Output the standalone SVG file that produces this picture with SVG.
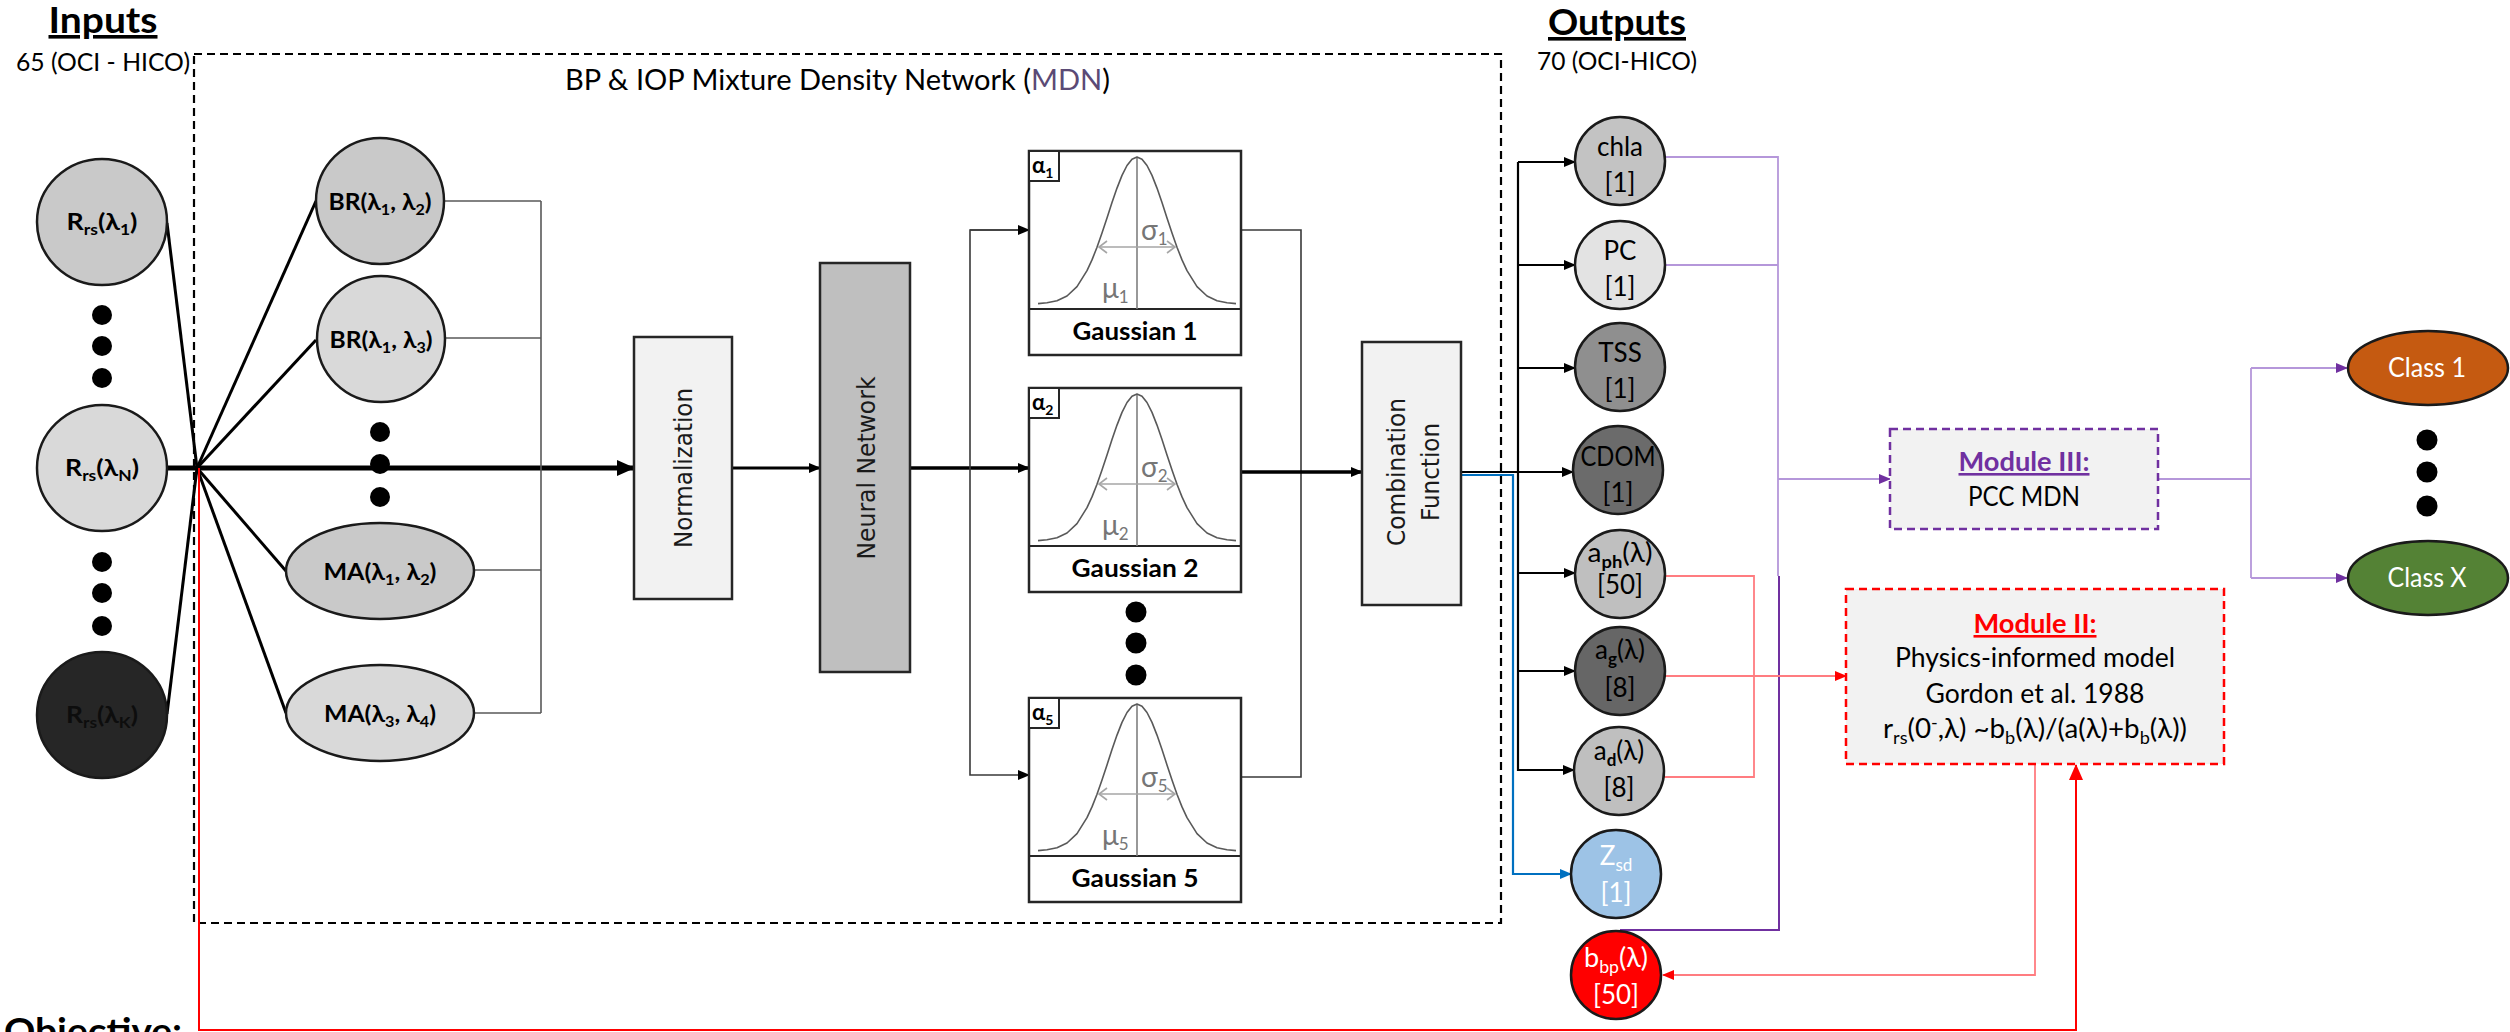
<svg xmlns="http://www.w3.org/2000/svg" width="2510" height="1032" viewBox="0 0 2510 1032">
<style>
text{font-family:Lato,"Liberation Sans",sans-serif;fill:#000}
.b{font-weight:bold}
.h{font-size:36px;font-weight:bold;text-decoration:underline}
.s25{font-size:25px}
.lb{font-size:23px;font-weight:bold;text-anchor:middle}
.sub{font-size:15px}
.ot{font-size:26px;text-anchor:middle}
.osub{font-size:17px}
.rot{font-family:"DejaVu Sans",Verdana,sans-serif;font-size:25px;text-anchor:middle;fill:#1a1a1a}
.nd{stroke:#1a1a1a;stroke-width:2.5}
.box{stroke:#262626;stroke-width:2.5}
.blk{stroke:#000;stroke-width:3;fill:none}
.thin{stroke:#000;stroke-width:2.2;fill:none}
.gry{stroke:#595959;stroke-width:1.6;fill:none}
.gl{stroke:#3a3a3a;stroke-width:1.6;fill:none}
.pl{stroke:#B597DA;stroke-width:1.8;fill:none}
.pd{stroke:#7030A0;stroke-width:2;fill:none}
.rl{stroke:#FF7C80;stroke-width:1.8;fill:none}
.rd{stroke:#FF0000;stroke-width:2;fill:none}
.bl{stroke:#0070C0;stroke-width:2.2;fill:none}
.dot{fill:#000}
.gt{font-size:24px;font-weight:bold;text-anchor:middle}
.gs{font-size:28px;fill:#767676}
.gsub{font-size:17px}
.asub{font-size:14px}
.mt{font-size:26px;text-anchor:middle}
</style>
<defs>
<marker id="ah" viewBox="0 0 12 10" refX="11" refY="5" markerWidth="12" markerHeight="10" markerUnits="userSpaceOnUse" orient="auto"><path d="M0,0L12,5L0,10z" fill="#000"/></marker>
<marker id="ahB" viewBox="0 0 18 16" refX="17" refY="8" markerWidth="18" markerHeight="16" markerUnits="userSpaceOnUse" orient="auto"><path d="M0,0L18,8L0,16z" fill="#000"/></marker>
<marker id="ahP" viewBox="0 0 12 10" refX="11" refY="5" markerWidth="12" markerHeight="10" markerUnits="userSpaceOnUse" orient="auto"><path d="M0,0L12,5L0,10z" fill="#7030A0"/></marker>
<marker id="ahR" viewBox="0 0 12 10" refX="11" refY="5" markerWidth="12" markerHeight="10" markerUnits="userSpaceOnUse" orient="auto"><path d="M0,0L12,5L0,10z" fill="#FF0000"/></marker>
<marker id="ahRB" viewBox="0 0 16 14" refX="15" refY="7" markerWidth="16" markerHeight="14" markerUnits="userSpaceOnUse" orient="auto"><path d="M0,0L16,7L0,14z" fill="#FF0000"/></marker>
<marker id="ahBl" viewBox="0 0 12 10" refX="11" refY="5" markerWidth="12" markerHeight="10" markerUnits="userSpaceOnUse" orient="auto"><path d="M0,0L12,5L0,10z" fill="#0070C0"/></marker>
<g id="gbody">
<rect x="0" y="0" width="212" height="204" fill="#fff" class="box" stroke-width="2"/>
<rect x="0" y="0" width="30" height="30" fill="#fff" stroke="#262626" stroke-width="2"/>
<line x1="0" y1="158" x2="212" y2="158" stroke="#262626" stroke-width="2"/>
<line x1="108" y1="6" x2="108" y2="158" stroke="#7f7f7f" stroke-width="1.6"/>
<path d="M9,152.6 L18,151.8 L28,149.7 L38,145 L48,135.7 L58,119.7 L63,108.9 L68,96.2 L73,82 L78,66.9 L83,51.6 L88,37.1 L93,24.4 L98,14.5 L103,8.2 L108,6 L113,8.2 L118,14.5 L123,24.4 L128,37.1 L133,51.6 L138,66.9 L143,82 L148,96.2 L153,108.9 L158,119.7 L168,135.7 L178,145 L188,149.7 L198,151.8 L207,152.6" fill="none" stroke="#595959" stroke-width="1.6" stroke-linejoin="round"/>
<line x1="70" y1="96" x2="146" y2="96" stroke="#a6a6a6" stroke-width="1.6"/>
<path d="M78,90 L70,96 L78,102 M138,90 L146,96 L138,102" fill="none" stroke="#a6a6a6" stroke-width="1.6"/>
</g>
</defs>
<rect x="0" y="0" width="2510" height="1032" fill="#fff"/>

<g id="headings">
<text x="103" y="33" class="h" text-anchor="middle" textLength="109" lengthAdjust="spacingAndGlyphs">Inputs</text>
<text x="103" y="71" class="s25" text-anchor="middle" textLength="174" lengthAdjust="spacingAndGlyphs">65 (OCI - HICO)</text>
<text x="1617" y="35" class="h" text-anchor="middle" textLength="138" lengthAdjust="spacingAndGlyphs">Outputs</text>
<text x="1617" y="70" class="s25" text-anchor="middle" textLength="160" lengthAdjust="spacingAndGlyphs">70 (OCI-HICO)</text>
<text x="565" y="90" font-size="28px" textLength="545" lengthAdjust="spacingAndGlyphs">BP &amp; IOP Mixture Density Network (<tspan fill="#5B4A75">MDN</tspan>)</text>
<text x="4" y="1044" font-size="36px" font-weight="bold" textLength="178" lengthAdjust="spacingAndGlyphs">Objective:</text>
</g>

<g id="mdn-frame">
<rect x="194" y="54" width="1307" height="869" fill="none" stroke="#000" stroke-width="2.2" stroke-dasharray="8,5"/>
</g>

<g id="connectors">
<line x1="167" y1="223" x2="197" y2="468" class="blk"/>
<line x1="167" y1="714" x2="197" y2="468" class="blk"/>
<line x1="197" y1="468" x2="316" y2="201" class="blk"/>
<line x1="197" y1="468" x2="316" y2="340" class="blk"/>
<line x1="197" y1="468" x2="286" y2="571" class="blk"/>
<line x1="197" y1="468" x2="286" y2="713" class="blk"/>
<line x1="167" y1="468" x2="634" y2="468" stroke="#000" stroke-width="5" marker-end="url(#ahB)"/>
<path d="M444,201 H541 M446,338 H541 M473,570 H541 M473,713 H541 M541,201 V713" class="gry"/>
<line x1="732" y1="468" x2="820" y2="468" stroke="#000" stroke-width="3" marker-end="url(#ah)"/>
<line x1="910" y1="468" x2="1029" y2="468" stroke="#000" stroke-width="3.5" marker-end="url(#ah)"/>
<path d="M1029,230 H970 V775 H1029" class="gl" marker-end="url(#ah)"/>
<line x1="970" y1="230" x2="1029" y2="230" class="gl" marker-end="url(#ah)"/>
<path d="M1241,230 H1301 V777 H1240" class="gl"/>
<line x1="1241" y1="472" x2="1362" y2="472" stroke="#000" stroke-width="3.5" marker-end="url(#ah)"/>
<line x1="1461" y1="472" x2="1573" y2="472" class="thin" marker-end="url(#ah)"/>
<line x1="1518" y1="162" x2="1518" y2="771" class="thin"/>
<line x1="1518" y1="162" x2="1575" y2="162" class="thin" marker-end="url(#ah)"/>
<line x1="1518" y1="265" x2="1575" y2="265" class="thin" marker-end="url(#ah)"/>
<line x1="1518" y1="368" x2="1575" y2="368" class="thin" marker-end="url(#ah)"/>
<line x1="1518" y1="573" x2="1575" y2="573" class="thin" marker-end="url(#ah)"/>
<line x1="1518" y1="671" x2="1575" y2="671" class="thin" marker-end="url(#ah)"/>
<line x1="1518" y1="770" x2="1574" y2="770" class="thin" marker-end="url(#ah)"/>
<path d="M1454,475 H1513 V874 H1571" class="bl" marker-end="url(#ahBl)"/>
<path d="M1665,157 H1778 V576 M1665,265 H1778" class="pl"/>
<line x1="1778" y1="479" x2="1890" y2="479" class="pl" marker-end="url(#ahP)"/>
<path d="M1779,576 V930 H1620" class="pd"/>
<path d="M2158,479 H2251 M2251,368 V578" class="pl"/>
<line x1="2251" y1="368" x2="2347" y2="368" class="pl" marker-end="url(#ahP)"/>
<line x1="2251" y1="578" x2="2347" y2="578" class="pl" marker-end="url(#ahP)"/>
<path d="M1665,576 H1754 V777 H1664" class="rl"/>
<line x1="1665" y1="676" x2="1846" y2="676" class="rl" marker-end="url(#ahR)"/>
<path d="M2035,764 V975 H1663" class="rl" marker-end="url(#ahR)"/>
<path d="M199,468 V1030 H2076 V765" class="rd" marker-end="url(#ahRB)"/>
</g>

<g id="rrs1"><ellipse cx="102" cy="222" rx="65" ry="63" fill="#C9C9C9" class="nd"/><text x="102" y="230" class="lb" textLength="71" lengthAdjust="spacingAndGlyphs">R<tspan class="sub" dy="5">rs</tspan><tspan dy="-5">(λ</tspan><tspan class="sub" dy="5">1</tspan><tspan dy="-5">)</tspan></text></g>
<g id="dots-in1"><circle cx="102" cy="315" r="10" class="dot"/><circle cx="102" cy="346" r="10" class="dot"/><circle cx="102" cy="378" r="10" class="dot"/></g>
<g id="rrsN"><ellipse cx="102" cy="468" rx="65" ry="63" fill="#D9D9D9" class="nd"/><text x="102" y="476" class="lb" textLength="74" lengthAdjust="spacingAndGlyphs">R<tspan class="sub" dy="5">rs</tspan><tspan dy="-5">(λ</tspan><tspan class="sub" dy="5">N</tspan><tspan dy="-5">)</tspan></text></g>
<g id="dots-in2"><circle cx="102" cy="562" r="10" class="dot"/><circle cx="102" cy="593" r="10" class="dot"/><circle cx="102" cy="626" r="10" class="dot"/></g>
<g id="rrsK"><ellipse cx="102" cy="715" rx="65" ry="63" fill="#262626" class="nd"/><text x="102" y="723" class="lb" style="fill:#0d0d0d" textLength="72" lengthAdjust="spacingAndGlyphs">R<tspan class="sub" dy="5">rs</tspan><tspan dy="-5">(λ</tspan><tspan class="sub" dy="5">K</tspan><tspan dy="-5">)</tspan></text></g>

<g id="br12"><ellipse cx="380" cy="201" rx="64" ry="63" fill="#C9C9C9" class="nd"/><text x="380" y="210" class="lb" textLength="103" lengthAdjust="spacingAndGlyphs">BR(λ<tspan class="sub" dy="5">1</tspan><tspan dy="-5">, λ</tspan><tspan class="sub" dy="5">2</tspan><tspan dy="-5">)</tspan></text></g>
<g id="br13"><ellipse cx="381" cy="339" rx="64" ry="63" fill="#D9D9D9" class="nd"/><text x="381" y="348" class="lb" textLength="103" lengthAdjust="spacingAndGlyphs">BR(λ<tspan class="sub" dy="5">1</tspan><tspan dy="-5">, λ</tspan><tspan class="sub" dy="5">3</tspan><tspan dy="-5">)</tspan></text></g>
<g id="dots-feat"><circle cx="380" cy="432" r="10" class="dot"/><circle cx="380" cy="464" r="10" class="dot"/><circle cx="380" cy="497" r="10" class="dot"/></g>
<g id="ma12"><ellipse cx="380" cy="571" rx="94" ry="48" fill="#C9C9C9" class="nd"/><text x="380" y="580" class="lb" textLength="113" lengthAdjust="spacingAndGlyphs">MA(λ<tspan class="sub" dy="5">1</tspan><tspan dy="-5">, λ</tspan><tspan class="sub" dy="5">2</tspan><tspan dy="-5">)</tspan></text></g>
<g id="ma34"><ellipse cx="380" cy="713" rx="94" ry="48" fill="#D9D9D9" class="nd"/><text x="380" y="722" class="lb" textLength="112" lengthAdjust="spacingAndGlyphs">MA(λ<tspan class="sub" dy="5">3</tspan><tspan dy="-5">, λ</tspan><tspan class="sub" dy="5">4</tspan><tspan dy="-5">)</tspan></text></g>

<g id="normalization"><rect x="634" y="337" width="98" height="262" fill="#F2F2F2" class="box"/><text transform="translate(683,468) rotate(-90)" y="9" class="rot" textLength="160" lengthAdjust="spacingAndGlyphs">Normalization</text></g>
<g id="neural-network"><rect x="820" y="263" width="90" height="409" fill="#BFBFBF" class="box"/><text transform="translate(865,468) rotate(-90)" y="10" class="rot" textLength="183" lengthAdjust="spacingAndGlyphs">Neural Network</text></g>

<g id="gaussian1"><use href="#gbody" x="1029" y="151"/>
<text x="1032" y="173" class="b" font-size="22px">α<tspan class="asub" dy="5">1</tspan></text>
<text x="1141" y="240" class="gs">σ<tspan class="gsub" dy="5">1</tspan></text>
<text x="1102" y="298" class="gs">μ<tspan class="gsub" dy="5">1</tspan></text>
<text x="1135" y="340" class="gt" textLength="125" lengthAdjust="spacingAndGlyphs">Gaussian 1</text></g>
<g id="gaussian2"><use href="#gbody" x="1029" y="388"/>
<text x="1032" y="410" class="b" font-size="22px">α<tspan class="asub" dy="5">2</tspan></text>
<text x="1141" y="477" class="gs">σ<tspan class="gsub" dy="5">2</tspan></text>
<text x="1102" y="535" class="gs">μ<tspan class="gsub" dy="5">2</tspan></text>
<text x="1135" y="577" class="gt" textLength="127" lengthAdjust="spacingAndGlyphs">Gaussian 2</text></g>
<g id="dots-gauss"><circle cx="1136" cy="612" r="10.5" class="dot"/><circle cx="1136" cy="643" r="10.5" class="dot"/><circle cx="1136" cy="675" r="10.5" class="dot"/></g>
<g id="gaussian5"><use href="#gbody" x="1029" y="698"/>
<text x="1032" y="720" class="b" font-size="22px">α<tspan class="asub" dy="5">5</tspan></text>
<text x="1141" y="787" class="gs">σ<tspan class="gsub" dy="5">5</tspan></text>
<text x="1102" y="845" class="gs">μ<tspan class="gsub" dy="5">5</tspan></text>
<text x="1135" y="887" class="gt" textLength="127" lengthAdjust="spacingAndGlyphs">Gaussian 5</text></g>

<g id="combination"><rect x="1362" y="342" width="99" height="263" fill="#F2F2F2" class="box"/><text transform="translate(1411,472) rotate(-90)" y="-6" class="rot" textLength="148" lengthAdjust="spacingAndGlyphs">Combination</text><text transform="translate(1411,472) rotate(-90)" y="28" class="rot" textLength="98" lengthAdjust="spacingAndGlyphs">Function</text></g>

<g id="chla"><ellipse cx="1620" cy="161" rx="45" ry="44" fill="#C3C3C3" class="nd"/><text x="1620" y="156" class="ot" textLength="46" lengthAdjust="spacingAndGlyphs">chla</text><text x="1620" y="192" class="ot">[1]</text></g>
<g id="pc"><ellipse cx="1620" cy="265" rx="45" ry="44" fill="#E3E3E3" class="nd"/><text x="1620" y="260" class="ot">PC</text><text x="1620" y="296" class="ot">[1]</text></g>
<g id="tss"><ellipse cx="1620" cy="367" rx="45" ry="44" fill="#8F8F8F" class="nd"/><text x="1620" y="362" class="ot">TSS</text><text x="1620" y="398" class="ot">[1]</text></g>
<g id="cdom"><ellipse cx="1618" cy="470" rx="45" ry="44" fill="#6B6B6B" class="nd"/><text x="1618" y="466" class="ot" textLength="75" lengthAdjust="spacingAndGlyphs">CDOM</text><text x="1618" y="502" class="ot">[1]</text></g>
<g id="aph"><ellipse cx="1620" cy="574" rx="45" ry="44" fill="#BFBFBF" class="nd"/><text x="1620" y="562" class="ot" textLength="65" lengthAdjust="spacingAndGlyphs">a<tspan class="osub b" dy="6">ph</tspan><tspan dy="-6">(λ)</tspan></text><text x="1620" y="594" class="ot">[50]</text></g>
<g id="ag"><ellipse cx="1620" cy="671" rx="45" ry="44" fill="#666666" class="nd"/><text x="1620" y="659" class="ot">a<tspan class="osub b" dy="6">g</tspan><tspan dy="-6">(λ)</tspan></text><text x="1620" y="697" class="ot">[8]</text></g>
<g id="ad"><ellipse cx="1619" cy="771" rx="45" ry="44" fill="#BFBFBF" class="nd"/><text x="1619" y="760" class="ot">a<tspan class="osub b" dy="6">d</tspan><tspan dy="-6">(λ)</tspan></text><text x="1619" y="797" class="ot">[8]</text></g>
<g id="zsd"><ellipse cx="1616" cy="874" rx="45" ry="44" fill="#9DC3E6" class="nd"/><text x="1616" y="865" class="ot" style="fill:#fff">Z<tspan class="osub" dy="6">sd</tspan></text><text x="1616" y="902" class="ot" style="fill:#fff">[1]</text></g>
<g id="bbp"><ellipse cx="1616" cy="975" rx="45" ry="44" fill="#FF0000" class="nd"/><text x="1616" y="967" class="ot" style="fill:#fff" textLength="64" lengthAdjust="spacingAndGlyphs">b<tspan class="osub" dy="6">bp</tspan><tspan dy="-6">(λ)</tspan></text><text x="1616" y="1004" class="ot" style="fill:#fff">[50]</text></g>

<g id="module3"><rect x="1890" y="429" width="268" height="100" fill="#F2F2F2" stroke="#7030A0" stroke-width="2.5" stroke-dasharray="8,5"/>
<text x="2024" y="471" class="mt b" style="fill:#7030A0;text-decoration:underline" textLength="131" lengthAdjust="spacingAndGlyphs">Module III:</text>
<text x="2024" y="506" class="mt" textLength="112" lengthAdjust="spacingAndGlyphs">PCC MDN</text></g>
<g id="module2"><rect x="1846" y="589" width="378" height="175" fill="#F2F2F2" stroke="#FF0000" stroke-width="2.5" stroke-dasharray="8,5"/>
<text x="2035" y="633" class="mt b" style="fill:#FF0000;text-decoration:underline" textLength="123" lengthAdjust="spacingAndGlyphs">Module II:</text>
<text x="2035" y="667" class="mt" textLength="280" lengthAdjust="spacingAndGlyphs">Physics-informed model</text>
<text x="2035" y="703" class="mt" textLength="219" lengthAdjust="spacingAndGlyphs">Gordon et al. 1988</text>
<text x="2035" y="738" class="mt" textLength="304" lengthAdjust="spacingAndGlyphs">r<tspan class="osub" dy="6">rs</tspan><tspan dy="-6">(0</tspan><tspan class="osub" dy="-9">-</tspan><tspan dy="9">,λ) ~b</tspan><tspan class="osub" dy="6">b</tspan><tspan dy="-6">(λ)/(a(λ)+b</tspan><tspan class="osub" dy="6">b</tspan><tspan dy="-6">(λ))</tspan></text></g>

<g id="class1"><ellipse cx="2428" cy="368" rx="80" ry="37" fill="#C55A11" class="nd"/><text x="2427" y="377" class="mt" style="fill:#fff" textLength="78" lengthAdjust="spacingAndGlyphs">Class 1</text></g>
<g id="dots-class"><circle cx="2427" cy="440" r="10.5" class="dot"/><circle cx="2427" cy="472" r="10.5" class="dot"/><circle cx="2427" cy="506" r="10.5" class="dot"/></g>
<g id="classX"><ellipse cx="2428" cy="578" rx="80" ry="37" fill="#548235" class="nd"/><text x="2427" y="587" class="mt" style="fill:#fff" textLength="79" lengthAdjust="spacingAndGlyphs">Class X</text></g>
</svg>
